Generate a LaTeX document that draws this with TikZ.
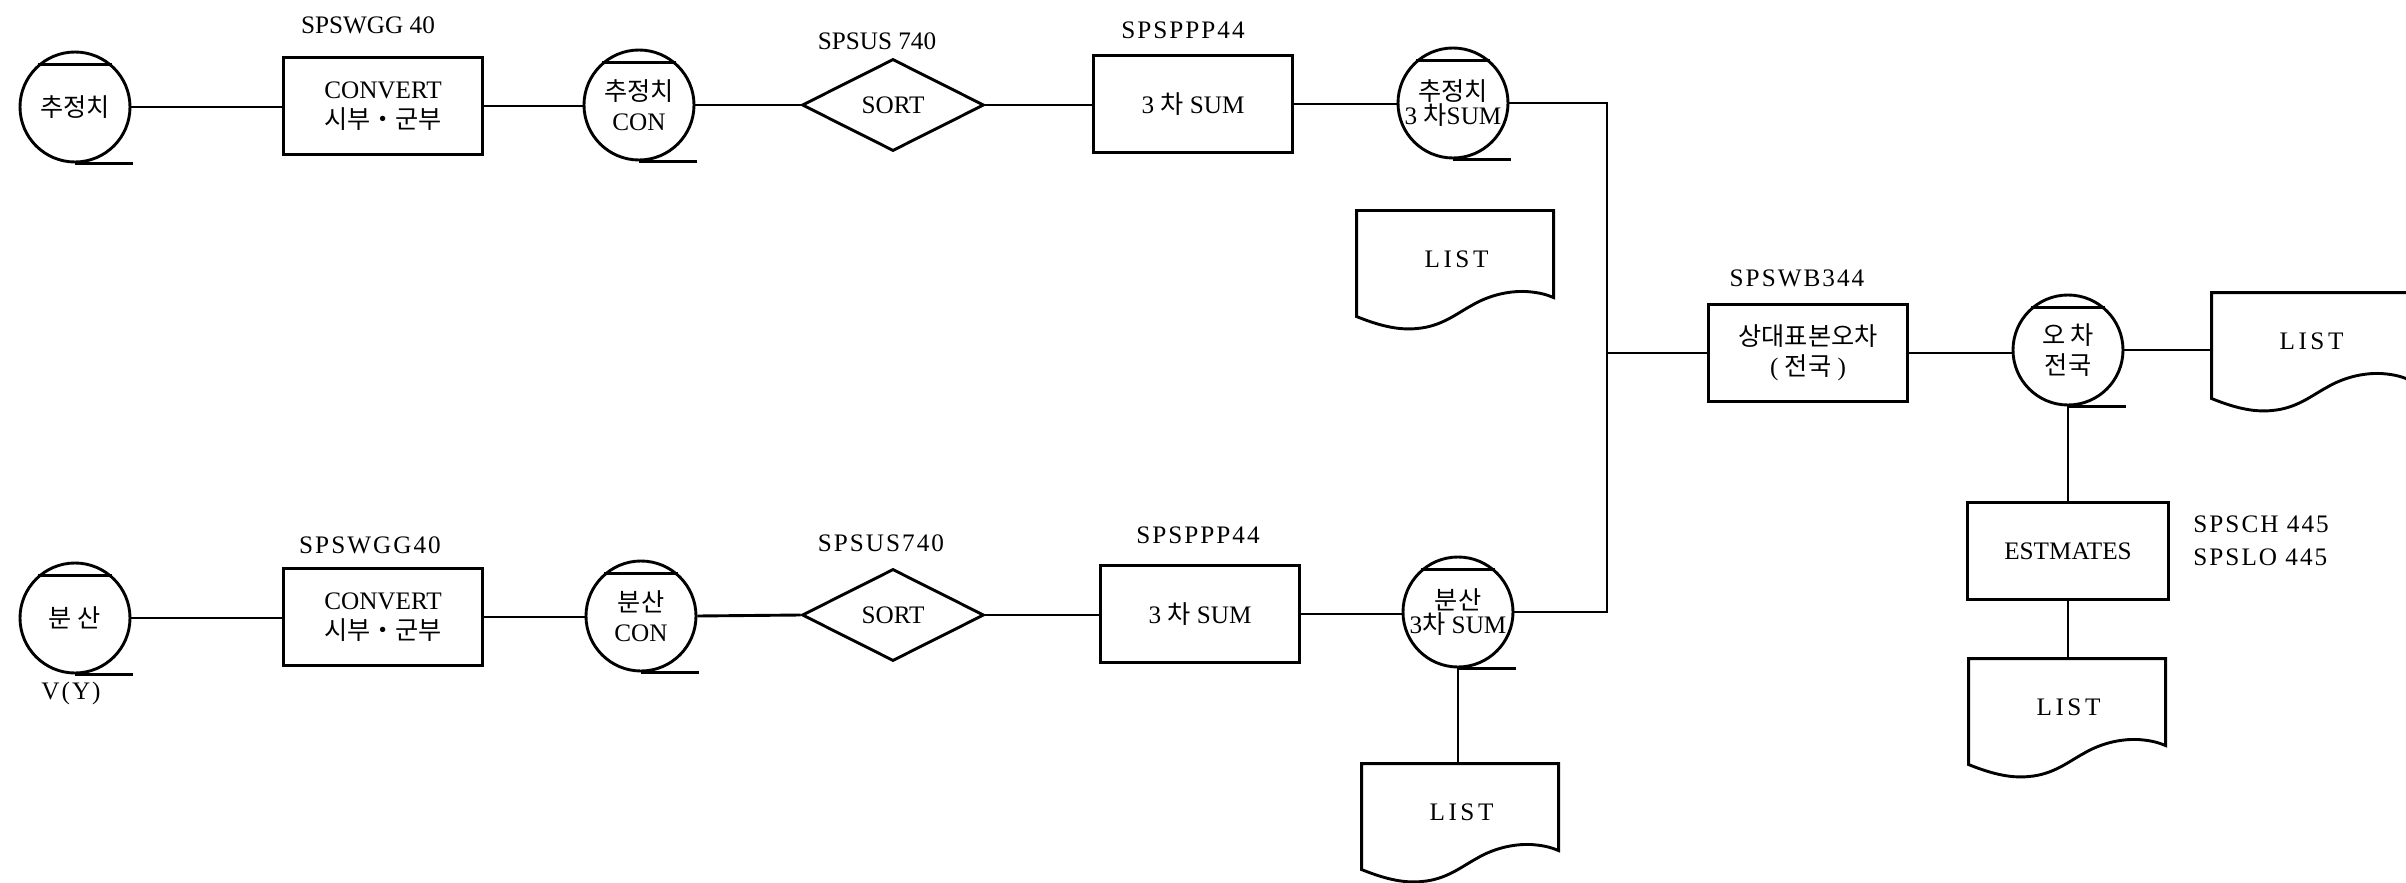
\documentclass[tikz,border=0pt]{standalone}
\usepackage{fontspec}
\setmainfont{Liberation Serif}
\newfontfamily\kr{Noto Sans CJK KR}[Scale=1.0]
\newfontfamily\spc{Liberation Serif}[LetterSpace=8]
\newfontfamily\spcw{Liberation Serif}[LetterSpace=14]
\usetikzlibrary{shapes.geometric}
\newcommand\tapedeco[1]{\draw (#1.131) -- (#1.49) (#1.south) -- ++(58,0);}
\newcommand\docdraw[1]{\begin{scope}[shift={(#1.north west)}]
\draw (0,0) -- (0,106) .. controls (20,114) and (40,120) .. (60,118) .. controls (85,116) and (100,103) .. (115,95) .. controls (130,86) and (150,80) .. (170,81) .. controls (185,82) and (192,85) .. (197,87) -- (197,0) -- cycle;
\end{scope}}
\tikzset{
  every node/.style={font=\fontsize{12.6}{15}\selectfont},
  proc/.style={draw, rectangle, minimum width=99.5pt, minimum height=48.5pt, inner sep=0pt, align=center},
  tape/.style={draw, circle, minimum size=55pt, inner sep=0pt, align=center},
  tapetight/.style={tape, font=\fontsize{12.6}{12}\selectfont},
  sortd/.style={draw, diamond, minimum width=91pt, minimum height=46pt, inner sep=0pt},
  docn/.style={rectangle, minimum width=98.5pt, minimum height=47pt, inner sep=0pt, font=\spcw\fontsize{12.6}{15}\selectfont},
  lbl/.style={inner sep=0pt},
}
\begin{document}
\begin{tikzpicture}[x=0.5pt, y=-0.5pt, line width=1.45pt]
\useasboundingbox (0,0) rectangle (2406,883);
\fill[white] (0,0) rectangle (2406,883);
\clip (0,0) rectangle (2406,883);

% ---------- top row ----------
\node[tape] (t1) at (75,107) {{\kr 추정치}};
\node[proc] (c1) at (383,106) {CONVERT\\{\kr 시부・군부}};
\node[tape] (t2) at (639,105) {{\kr 추정치}\\CON};
\node[sortd] (s1) at (893,105) {SORT};
\node[proc] (p1) at (1193,104) {3 {\kr 차} SUM};
\node[tapetight] (t3) at (1453,103) {{\kr 추정치}\\3 {\kr 차}SUM};
\foreach \t in {t1,t2,t3} {\tapedeco{\t}}

\node[lbl] (lc1) at (368,25) {SPSWGG 40};
\node[lbl] (ls1) at (877,41) {SPSUS 740};
\node[lbl] (lp1) at (1183,30) {\spc SPSPPP44};

% ---------- middle ----------
\node[docn] (list1) at (1456.5,259) {LIST};
\docdraw{list1}
\coordinate (jx) at (1607,353);
\node[proc] (w1) at (1808,353) {{\kr 상대표본오차}\\( {\kr 전국} )};
\node[lbl] (lw1) at (1797,278) {\spc SPSWB344};
\node[tape] (t4) at (2068,350) {{\kr 오 차}\\{\kr 전국}};
\tapedeco{t4}
\node[docn] (rdoc) at (2311.5,341) {LIST};
\docdraw{rdoc}
\node[proc, minimum width=100.5pt] (e1) at (2068,551) {ESTMATES};
\node[lbl, anchor=west, align=left, font=\spc\fontsize{12.6}{16.5}\selectfont] (le1) at (2192,541) {SPSCH 445\\SPSLO 445};
\node[docn] (edoc) at (2068.5,707) {LIST};
\docdraw{edoc}

% ---------- bottom row ----------
\node[tape] (t5) at (75,618) {{\kr 분 산}};
\node[lbl, font=\spc\fontsize{12.6}{15}\selectfont] (lv) at (71,693) {V(Y)};
\node[proc] (c2) at (383,617) {CONVERT\\{\kr 시부・군부}};
\node[tape] (t6) at (641,616) {{\kr 분산}\\CON};
\node[sortd] (s2) at (893,615) {SORT};
\node[proc] (p2) at (1200,614) {3 {\kr 차} SUM};
\node[tapetight] (t7) at (1458,612) {{\kr 분산}\\3{\kr 차} SUM};
\foreach \t in {t5,t6,t7} {\tapedeco{\t}}
\node[lbl] (lc2) at (370,545) {\spc SPSWGG40};
\node[lbl] (ls2) at (881,543) {\spc SPSUS740};
\node[lbl] (lp2) at (1198,535) {\spc SPSPPP44};
\node[docn] (bdoc) at (1461.5,812) {LIST};
\docdraw{bdoc}

% ---------- connectors ----------
\draw (t1.east) -- (t1.east -| c1.west);
\draw (c1.east) -- (c1.east -| t2.west);
\draw (t2.east) -- (s1.west);
\draw (s1.east) -- (s1.east -| p1.west);
\draw (p1.east) -- (p1.east -| t3.west);
\draw (t3.east) -- (t3.east -| jx) -- (t7.east -| jx) -- (t7.east);
\draw (jx) -- (w1.west);
\draw (w1.east) -- (w1.east -| t4.west);
\draw (t4.east) -- (t4.east -| rdoc.west);
\draw (t4.south) -- (e1.north);
\draw (e1.south) -- (e1.south |- edoc.north);

\draw (t5.east) -- (t5.east -| c2.west);
\draw (c2.east) -- (c2.east -| t6.west);
\draw (t6.east) -- (s2.west);
\draw (s2.east) -- (s2.east -| p2.west);
\draw (p2.east) -- (p2.east -| t7.west);
\draw (t7.south) -- (t7.south |- bdoc.north);
\end{tikzpicture}
\end{document}
